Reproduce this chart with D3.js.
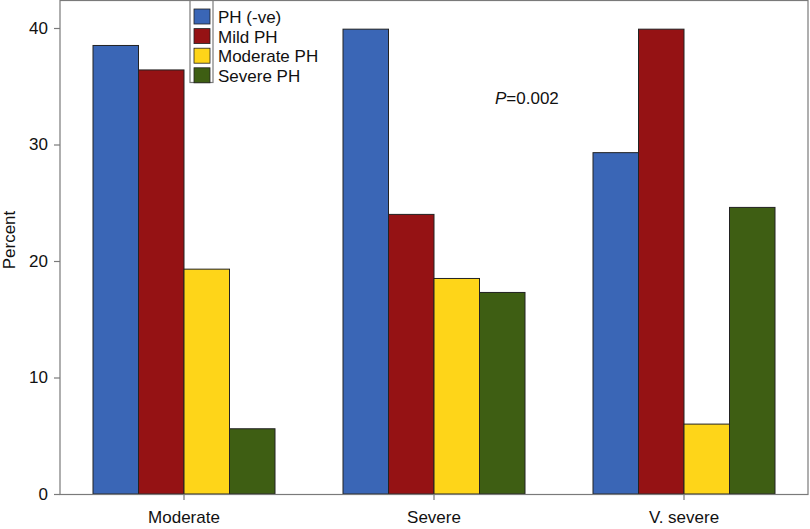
<!DOCTYPE html>
<html><head><meta charset="utf-8">
<script src="https://cdn.jsdelivr.net/npm/d3@7"></script>
<style>body{margin:0;background:#fff}svg{display:block;font-family:"Liberation Sans",Arial,sans-serif}</style>
</head><body><svg id="c" width="810" height="529"></svg>
<script>
const categories = ["Moderate", "Severe", "V. severe"];
const seriesNames = ["PH (-ve)", "Mild PH", "Moderate PH", "Severe PH"];
const phNeg = [38.5, 39.9, 29.3];
const mildPH = [36.4, 24.0, 39.9];
const moderatePH = [19.3, 18.5, 6.0];
const severePH = [5.6, 17.3, 24.6];
const yTicks = [0, 10, 20, 30, 40];
const colors = ["#3a66b6", "#951214", "#fed519", "#3e5e13"];
const pLabel = "=0.002";

const series = [phNeg, mildPH, moderatePH, severePH];
const svg = d3.select("#c");
const L = 60, R = 808, T = 0, B = 494;
const FS = 17;
const x = d3.scaleBand().domain(categories).range([59, 809]).paddingInner(0.272).paddingOuter(0.136);
const xi = d3.scaleBand().domain(seriesNames).range([0, x.bandwidth()]);
const y = d3.scaleLinear().domain([0, 40]).range([B, 28]);
const axisColor = "#7a7a7a";

// bars
categories.forEach((c, ci) => {
  seriesNames.forEach((s, si) => {
    svg.append("rect")
      .attr("x", x(c) + xi(s)).attr("y", y(series[si][ci]))
      .attr("width", xi.bandwidth()).attr("height", B - y(series[si][ci]))
      .attr("fill", colors[si]).attr("stroke", "#222").attr("stroke-width", 1);
  });
});

// frame
svg.append("rect").attr("x", L).attr("y", T + 0.5).attr("width", R - L).attr("height", B - T)
  .attr("fill", "none").attr("stroke", axisColor).attr("stroke-width", 1.2);

// y axis
const ya = svg.append("g").attr("transform", `translate(${L},0)`)
  .call(d3.axisLeft(y).tickValues(yTicks).tickSize(6).tickPadding(6));
ya.select(".domain").remove();
ya.selectAll("line").attr("stroke", axisColor).attr("stroke-width", 1.2);
ya.selectAll("text").attr("font-size", FS).attr("fill", "#111").attr("font-family", "Liberation Sans, Arial, sans-serif");

// x axis
const xa = svg.append("g").attr("transform", `translate(0,${B})`)
  .call(d3.axisBottom(x).tickSize(6).tickPadding(11));
xa.select(".domain").remove();
xa.selectAll("line").attr("stroke", axisColor).attr("stroke-width", 1.2);
xa.selectAll("text").attr("font-size", FS).attr("fill", "#111").attr("font-family", "Liberation Sans, Arial, sans-serif");

// y label
svg.append("text").attr("transform", "translate(15,240) rotate(-90)").attr("text-anchor", "middle")
  .attr("font-size", FS).attr("fill", "#111").text("Percent");

// legend
svg.append("rect").attr("x", 190).attr("y", 0.5).attr("width", 23).attr("height", 82)
  .attr("fill", "#fff").attr("stroke", axisColor).attr("stroke-width", 1.2);
seriesNames.forEach((s, i) => {
  const yy = 9 + i * 19.6;
  svg.append("rect").attr("x", 194).attr("y", yy).attr("width", 16).attr("height", 15)
    .attr("fill", colors[i]).attr("stroke", "#222").attr("stroke-width", 0.8);
  svg.append("text").attr("x", 218).attr("y", yy + 14).attr("font-size", FS).attr("fill", "#111").text(s);
});

// p value
const pt = svg.append("text").attr("x", 495).attr("y", 104).attr("font-size", FS).attr("fill", "#111");
pt.append("tspan").attr("font-style", "italic").text("P");
pt.append("tspan").text(pLabel);
</script></body></html>
